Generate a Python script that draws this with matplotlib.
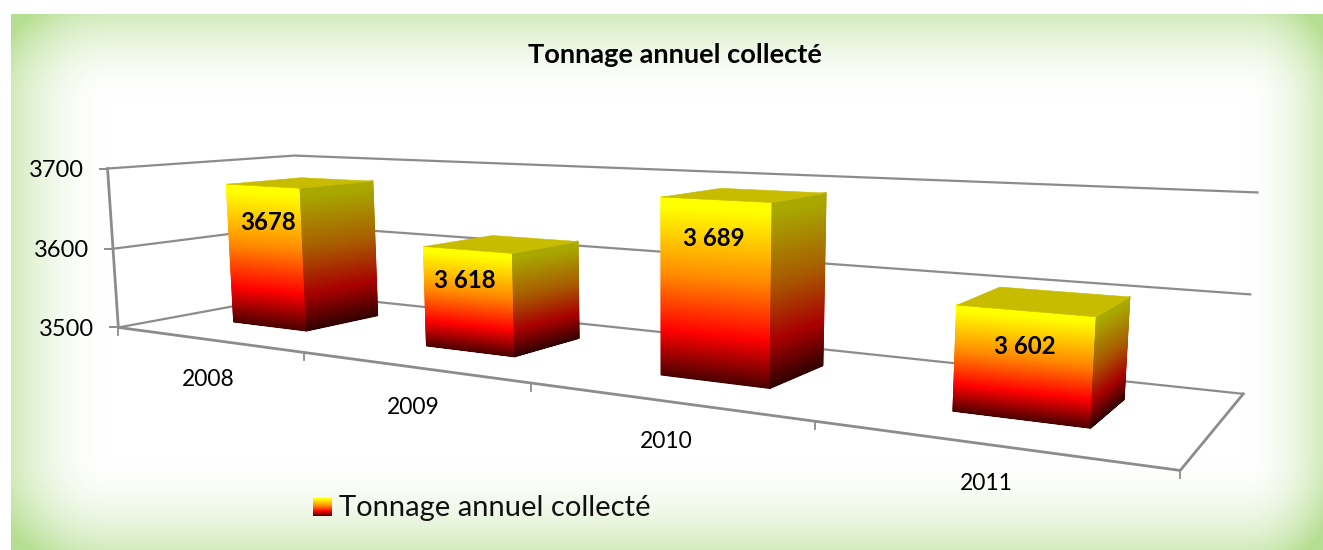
import numpy as np
import matplotlib
matplotlib.use('Agg')
import matplotlib.pyplot as plt
from matplotlib.collections import PolyCollection
from matplotlib.colors import LinearSegmentedColormap

# data
years = ['2008', '2009', '2010', '2011']
tonnage = [3678, 3618, 3689, 3602]
value_labels = ['3678', '3 618', '3 689', '3 602']
axis_ticks = [3500, 3600, 3700]
chart_title = 'Tonnage annuel collecté'

calib = [
    (0, 0, 0, 120, 327), (0, 0, .5, 112, 248), (0, 0, 1, 107, 168),
    (0, 1, 0, 298, 295), (0, 1, .5, 298, 225), (0, 1, 1, 298, 155),
    (4, 1, 0, 1243, 392), (4, 1, .5, 1252, 294), (4, 1, 1, 1258, 193),
    (4, 0, 0, 1180, 470), (1, 0, 0, 305, 353), (2, 0, 0, 532, 383), (3, 0, 0, 816, 422),
    (.3, .32, .89, 225, 184), (.7, .73, .89, 372, 181),
    (1.3, .32, .59, 423, 246), (1.7, .73, .59, 578, 241),
    (2.3, .32, .945, 660, 197), (2.7, .73, .945, 825, 193),
    (3.3, .32, .51, 957, 305), (3.7, .73, .51, 1128, 297),
]
rows = []
for X, Y, Z, u, v in calib:
    rows.append([X, Y, Z, 1, 0, 0, 0, 0, -u*X, -u*Y, -u*Z, -u])
    rows.append([0, 0, 0, 0, X, Y, Z, 1, -v*X, -v*Y, -v*Z, -v])
P = np.linalg.svd(np.array(rows, float))[2][-1].reshape(3, 4)


def project(X, Y, val):
    Z = (np.asarray(val, float) - axis_ticks[0]) / (axis_ticks[-1] - axis_ticks[0])
    w = P @ np.array([X, Y, Z, 1.0])
    return w[0] / w[2], w[1] / w[2]


W, H = 1323, 550
fig = plt.figure(figsize=(W/100, H/100), dpi=100)
ax = fig.add_axes([0, 0, 1, 1])
ax.set_xlim(0, W)
ax.set_ylim(H, 0)
ax.axis('off')
plt.rcParams['font.family'] = ['Lato', 'DejaVu Sans']

# panel background, green at the edges and white in the middle
xx, yy = np.meshgrid(np.arange(11, W) + .5, np.arange(14, H) + .5)
ax_l = np.clip(1 - (xx - 11) / 100, 0, 1) ** 2
ax_r = np.clip(1 - (W - xx) / 80, 0, 1) ** 2
ax_t = np.clip(1 - (yy - 14) / 90, 0, 1) ** 2
ax_b = np.clip(1 - (H - yy) / 95, 0, 1) ** 2
a = np.clip(ax_l + ax_r + ax_t + ax_b, 0, 1.6)
edge = np.array([210, 235, 188]) / 255
bg = 1 - a[..., None] * (1 - edge)
ax.imshow(bg, extent=(11, W, H, 14), aspect='auto', zorder=0)

grid_c = '#8c8c8c'
x0, x1 = 0, len(years)
for t in axis_ticks:
    a0 = project(x0, 0, t)
    a1 = project(x0, 1, t)
    a2 = project(x1, 1, t)
    ax.plot([a0[0], a1[0], a2[0]], [a0[1], a1[1], a2[1]], color=grid_c, lw=1.6, zorder=1)
    ax.plot([a0[0] - 8, a0[0]], [a0[1], a0[1]], color=grid_c, lw=1.4, zorder=1)
    ax.text(a0[0] - 24, a0[1] + 2, str(t), ha='right', va='center', fontsize=17, color='black')

# front and side edges of the floor, left axis
corners = [project(x0, 0, 3700), project(x0, 0, 3500), project(x1, 0, 3500), project(x1, 1, 3500)]
ax.plot([c[0] for c in corners], [c[1] for c in corners], color=grid_c, lw=2, zorder=1)
for i in range(len(years) + 1):
    px, py = project(i, 0, 3500)
    ax.plot([px, px], [py, py + 8], color=grid_c, lw=1.3, zorder=1)

cmap = LinearSegmentedColormap.from_list('bar', [(0, '#4a0000'), (.26, '#ff0000'), (.58, '#ff8c00'), (.95, '#ffff00'), (1, '#ffff00')])
gap, d0, d1 = .3, .32, .73
n = 220
for i, val in enumerate(tonnage):
    xa, xb = i + gap, i + 1 - gap
    levels = np.linspace(axis_ticks[0], val, n + 1)
    fracs = (np.arange(n) + .5) / n
    front = [[project(xa, d0, levels[k]), project(xb, d0, levels[k]), project(xb, d0, levels[k+1]), project(xa, d0, levels[k+1])] for k in range(n)]
    side = [[project(xb, d0, levels[k]), project(xb, d1, levels[k]), project(xb, d1, levels[k+1]), project(xb, d0, levels[k+1])] for k in range(n)]
    cols = cmap(fracs)
    dark = cols.copy()
    dark[:, :3] *= .66
    ax.add_collection(PolyCollection(front, facecolors=cols, edgecolors=cols, linewidths=.7, zorder=3 + i))
    ax.add_collection(PolyCollection(side, facecolors=dark, edgecolors=dark, linewidths=.7, zorder=3 + i))
    top = [project(xa, d0, val), project(xb, d0, val), project(xb, d1, val), project(xa, d1, val)]
    ax.add_collection(PolyCollection([top], facecolors='#c8bc00', edgecolors='#c8bc00', linewidths=.4, zorder=3 + i))

# value labels
label_xy = [(268, 223), (465, 280), (714, 239), (1025, 347)]
for (lx, ly), s in zip(label_xy, value_labels):
    ax.text(lx, ly, s, ha='center', va='center', fontsize=17.3, fontweight='bold', color='black', zorder=10)

year_xy = [(208, 379), (413, 407), (666, 442), (986, 484)]
for (lx, ly), s in zip(year_xy, years):
    ax.text(lx, ly, s, ha='center', va='center', fontsize=16.5, color='black')

ax.text(675, 55, chart_title, ha='center', va='center', fontsize=19.6, fontweight='bold', color='black')

# legend
ramp = cmap(np.linspace(1, 0, 40))[:, None, :3]
ax.imshow(ramp, extent=(313, 332, 516, 498), aspect='auto', zorder=5)
ax.set_xlim(0, W)
ax.set_ylim(H, 0)
ax.text(339, 508, chart_title, ha='left', va='center', fontsize=21, color='#111111')

fig.savefig('out.png', dpi=100)
